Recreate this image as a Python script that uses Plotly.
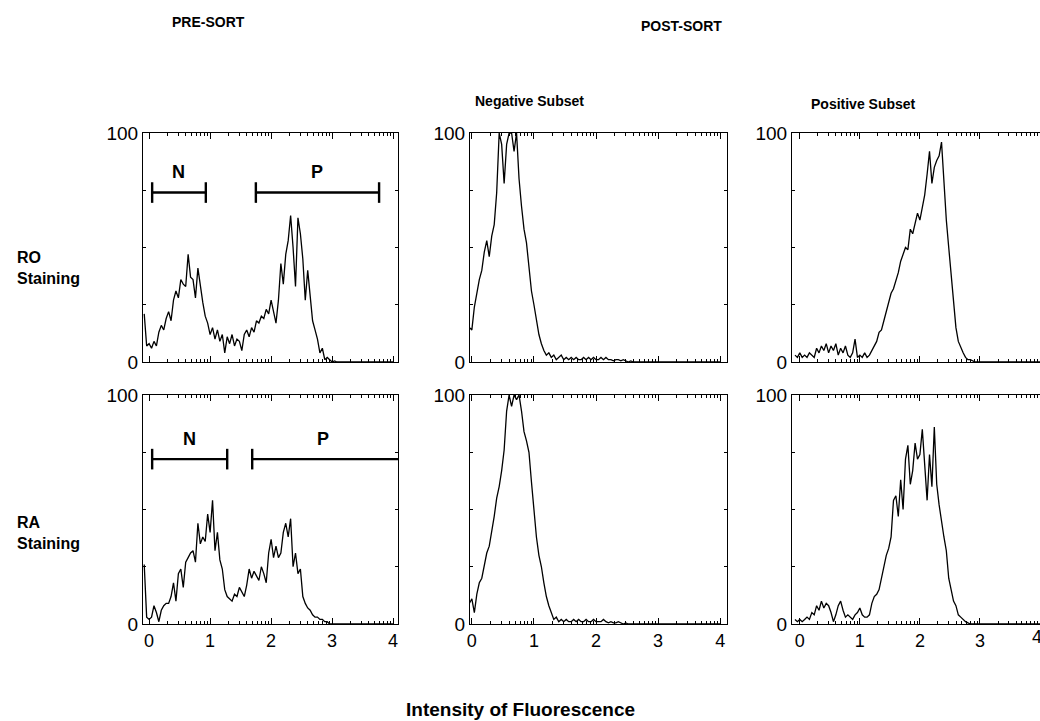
import plotly.graph_objects as go
import numpy as np

# ---------------- data ----------------
# fluorescence channels (log decades), one value every 0.04 from -0.08 to 4.00
channel_start = -0.08
channel_step = 0.04

# % of max counts, RO staining, pre-sort
ro_pre = [21, 7, 8, 6, 9, 7, 13, 16, 14, 19,
          22, 18, 27, 31, 28, 36, 34, 33, 47, 37,
          36, 28, 41, 33, 26, 20, 17, 12, 15, 10,
          14, 9, 12, 4, 11, 8, 12, 7, 10, 9,
          5, 12, 14, 11, 15, 13, 18, 17, 20, 19,
          23, 21, 27, 22, 17, 27, 43, 34, 47, 53,
          64, 50, 33, 63, 56, 45, 27, 40, 30, 18,
          14, 10, 4, 6, 1, 2, 1, 0, 0.5, 0,
          0, 0, 0, 0, 0, 0, 0, 0, 0, 0,
          0, 0, 0, 0, 0, 0, 0, 0, 0, 0,
          0, 0, 0]

# RA staining, pre-sort
ra_pre = [26, 3, 2, 3, 8, 5, 1, 6, 8, 9,
          9, 12, 18, 10, 22, 24, 16, 27, 29, 31,
          32, 27, 44, 35, 38, 36, 48, 40, 54, 32,
          40, 28, 24, 15, 12, 11, 10, 13, 12, 16,
          14, 12, 17, 24, 20, 23, 21, 19, 25, 22,
          18, 31, 37, 29, 34, 29, 31, 40, 44, 38,
          46, 25, 31, 22, 24, 12, 9, 7, 6, 4,
          3, 3, 2, 2, 1, 1, 0, 0, 0, 0,
          0, 0, 0, 0, 0, 0, 0, 0, 0, 0,
          0, 0, 0, 0, 0, 0, 0, 0, 0, 0,
          0, 0, 0]

# RO staining, post-sort negative subset
ro_neg = [0, 15, 14, 24, 30, 36, 40, 48, 53, 46,
          55, 60, 74, 100, 95, 78, 95, 100, 100, 92,
          100, 80, 68, 58, 52, 40, 31, 25, 18, 12,
          8, 5, 3, 4, 2, 3, 1, 2, 3, 1,
          2, 1, 2, 1, 2, 1, 1, 2, 1, 2,
          1, 2, 1, 1, 2, 1, 2, 1, 1, 0.5,
          1, 1, 0.5, 1, 0.5, 0, 0.5, 0, 0, 0,
          0, 0, 0, 0, 0, 0, 0, 0, 0, 0,
          0, 0, 0, 0, 0, 0, 0, 0, 0, 0,
          0, 0, 0, 0, 0, 0, 0, 0, 0, 0,
          0, 0, 0]

# RA staining, post-sort negative subset
ra_neg = [0, 9, 11, 5, 13, 18, 20, 26, 31, 34,
          40, 47, 55, 60, 67, 76, 93, 100, 95, 100,
          98, 100, 93, 84, 80, 75, 62, 48, 38, 30,
          25, 18, 12, 8, 5, 2, 3, 1, 2, 1,
          2, 1, 1, 2, 1, 2, 1, 1, 2, 1,
          1, 2, 1, 1, 1, 2, 1, 0.5, 1, 0.5,
          0.5, 1, 0.5, 0, 0.5, 0, 0, 0, 0, 0,
          0, 0, 0, 0, 0, 0, 0, 0, 0, 0,
          0, 0, 0, 0, 0, 0, 0, 0, 0, 0,
          0, 0, 0, 0, 0, 0, 0, 0, 0, 0,
          0, 0, 0]

# RO staining, post-sort positive subset
ro_pos = [3, 2, 4, 2, 3, 2, 4, 3, 2, 6,
          4, 7, 5, 8, 4, 7, 5, 8, 3, 6,
          4, 7, 3, 2, 4, 10, 2, 3, 2, 4,
          2, 3, 5, 7, 9, 13, 14, 18, 22, 26,
          30, 32, 35, 39, 44, 47, 50, 49, 58, 56,
          60, 65, 62, 68, 73, 82, 92, 78, 85, 88,
          90, 96, 76, 62, 50, 38, 24, 15, 9, 6,
          4, 2, 1, 1, 0.5, 0, 0, 0, 0, 0,
          0, 0, 0, 0, 0, 0, 0, 0, 0, 0,
          0, 0, 0, 0, 0, 0, 0, 0, 0, 0,
          0, 0, 0]

# RA staining, post-sort positive subset
ra_pos = [2, 1, 2, 1, 2, 3, 2, 5, 4, 8,
          6, 10, 7, 9, 8, 5, 1, 4, 8, 10,
          6, 3, 4, 3, 2, 4, 5, 7, 4, 3,
          3, 4, 9, 12, 13, 15, 20, 25, 30, 33,
          38, 54, 56, 47, 63, 50, 72, 78, 61, 67,
          79, 72, 74, 85, 69, 54, 74, 60, 86, 61,
          52, 44, 38, 32, 20, 15, 10, 8, 4, 3,
          2, 1, 0.5, 0, 0, 0, 0, 0, 0, 0,
          0, 0, 0, 0, 0, 0, 0, 0, 0, 0,
          0, 0, 0, 0, 0, 0, 0, 0, 0, 0,
          0, 0, 0]

# gates (N = negative, P = positive) on the pre-sort histograms
gate_labels = ["N", "P"]
ro_gates = [[0.05, 0.93], [1.75, 3.77]]
ro_gate_level = 74
ro_gate_has_end_tick = [True, True]
ra_gates = [[0.05, 1.28], [1.69, 4.08]]
ra_gate_level = 72
ra_gate_has_end_tick = [True, False]

x_tick_values = [0, 1, 2, 3, 4]
y_tick_values = [0, 25, 50, 75, 100]
y_tick_text = ["0", "", "", "", "100"]

# ---------------- figure ----------------
W, H = 1040, 721
n = len(ro_pre)
xs = [round(channel_start + channel_step * i, 2) for i in range(n)]

def px(v):
    return v / W

def py(v):
    return 1 - v / H

col_dom = [[px(143), px(398)], [px(470), px(727)], [px(792), 1.0]]
col_rng = [[-0.1, 4.08], [-0.03, 4.11], [-0.13, 4.0]]
row_dom = [[py(362), py(133)], [py(624), py(395)]]

series = [ro_pre, ro_neg, ro_pos, ra_pre, ra_neg, ra_pos]

minor_vals = [d + np.log10(k) for d in range(4) for k in range(2, 10)]
font_family = "Liberation Sans, Arial, Helvetica, sans-serif"

fig = go.Figure()
for i, ys in enumerate(series):
    ax = i + 1
    fig.add_trace(go.Scatter(x=xs, y=ys, mode="lines",
                             line=dict(color="black", width=1.3),
                             xaxis="x%d" % ax, yaxis="y%d" % ax,
                             showlegend=False, hoverinfo="skip"))

layout = dict(width=W, height=H, margin=dict(l=0, r=0, t=0, b=0),
              paper_bgcolor="white", plot_bgcolor="white",
              font=dict(family=font_family, size=14, color="black"),
              showlegend=False)

for i in range(6):
    r, c = divmod(i, 3)
    ax = i + 1
    xk = "xaxis" if ax == 1 else "xaxis%d" % ax
    yk = "yaxis" if ax == 1 else "yaxis%d" % ax
    layout[xk] = dict(domain=col_dom[c], range=col_rng[c], anchor="y%d" % ax,
                      showline=True, linecolor="black", linewidth=1,
                      mirror="allticks", ticks="inside", ticklen=6, tickwidth=1,
                      tickcolor="black", tickvals=x_tick_values,
                      ticktext=[str(v) for v in x_tick_values],
                      showticklabels=(r == 1), showgrid=False, zeroline=False,
                      automargin=False, fixedrange=True,
                      tickfont=dict(size=18),
                      minor=dict(tickmode="array", tickvals=minor_vals,
                                 ticks="inside", ticklen=3, tickcolor="black",
                                 tickwidth=1, showgrid=False))
    layout[yk] = dict(domain=row_dom[r], range=[0, 100], anchor="x%d" % ax,
                      showline=True, linecolor="black", linewidth=1,
                      mirror=("allticks" if c < 2 else False),
                      ticks="inside", ticklen=3, tickcolor="black",
                      tickvals=y_tick_values, ticktext=y_tick_text,
                      showgrid=False, zeroline=False, automargin=False,
                      fixedrange=True, tickfont=dict(size=19))

fig.update_layout(**layout)

# gate markers
def add_gates(gates, level, ax, end_ticks):
    gx, gy = [], []
    for (s, e), et in zip(gates, end_ticks):
        gx += [s, e, None, s, s, None]
        gy += [level, level, None, level - 4.5, level + 4.5, None]
        if et:
            gx += [e, e, None]
            gy += [level - 4.5, level + 4.5, None]
    fig.add_trace(go.Scatter(x=gx, y=gy, mode="lines",
                             line=dict(color="black", width=2.4),
                             xaxis="x%d" % ax, yaxis="y%d" % ax,
                             showlegend=False, hoverinfo="skip"))
    for lab, (s, e) in zip(gate_labels, gates):
        fig.add_annotation(x=(s + min(e, 4.0)) / 2, y=level + 9,
                           xref="x%d" % ax, yref="y%d" % ax,
                           text="<b>%s</b>" % lab, showarrow=False,
                           font=dict(size=18, family=font_family))

add_gates(ro_gates, ro_gate_level, 1, ro_gate_has_end_tick)
add_gates(ra_gates, ra_gate_level, 4, ra_gate_has_end_tick)

def txt(t, x, y, size=14, xanchor="center", align="center"):
    fig.add_annotation(x=px(x), y=py(y), xref="paper", yref="paper",
                       text=t, showarrow=False, xanchor=xanchor, align=align,
                       yanchor="middle", font=dict(size=size, family=font_family))

txt("<b>PRE-SORT</b>", 208, 22, size=14)
txt("<b>POST-SORT</b>", 681, 26, size=14)
txt("<b>Negative Subset</b>", 529, 101, size=14)
txt("<b>Positive Subset</b>", 863, 104, size=14)
txt("<b>RO<br>Staining</b>", 15, 268, size=16, xanchor="left", align="left")
txt("<b>RA<br>Staining</b>", 15, 533, size=16, xanchor="left", align="left")
txt("<b>Intensity of Fluorescence</b>", 520, 709, size=19)

# partly cut-off "4" at the right edge of the lower-right panel (as in the original)
fig.add_annotation(x=px(1037), y=py(637), xref="paper", yref="paper", text="4",
                   showarrow=False, xanchor="center", yanchor="middle",
                   font=dict(size=18, family=font_family))

fig.write_html("out.html", config={"displayModeBar": False},
               post_script="document.body.style.margin='0px';")
